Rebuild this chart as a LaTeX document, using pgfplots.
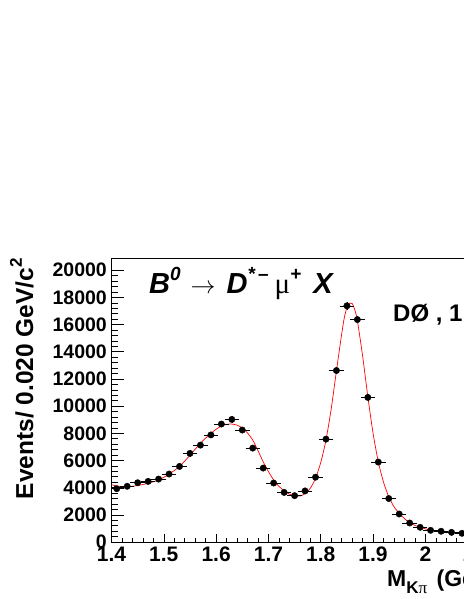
\documentclass[border=0pt]{standalone}
\usepackage{fontspec}
\setmainfont{Liberation Sans}
\newfontfamily\symfont{Liberation Serif}
\usepackage{pgfplots}
\usepackage{pgfplotstable}
\pgfplotsset{compat=1.18}

\newcommand{\upidx}[2][17]{\raisebox{0.45em}{\fontsize{#1}{#1}\selectfont #2}}

% data points: bin centre, events, half bin width, stat error
\pgfplotstableread{
x    y     ex   ey
1.41 3920  0.01 63
1.43 4100  0.01 64
1.45 4360  0.01 66
1.47 4460  0.01 67
1.49 4630  0.01 68
1.51 5000  0.01 71
1.53 5560  0.01 75
1.55 6520  0.01 81
1.57 7130  0.01 84
1.59 7880  0.01 89
1.61 8680  0.01 93
1.63 9020  0.01 95
1.65 8240  0.01 91
1.67 6910  0.01 83
1.69 5440  0.01 74
1.71 4340  0.01 66
1.73 3650  0.01 60
1.75 3410  0.01 58
1.77 3760  0.01 61
1.79 4770  0.01 69
1.81 7570  0.01 87
1.83 12620 0.01 112
1.85 17380 0.01 132
1.87 16370 0.01 128
1.89 10640 0.01 103
1.91 5880  0.01 77
1.93 3200  0.01 57
1.95 2060  0.01 45
1.97 1400  0.01 37
1.99 1080  0.01 33
2.01 860   0.01 29
2.03 790   0.01 28
2.05 710   0.01 27
2.07 640   0.01 25
2.09 600   0.01 24
2.11 560   0.01 24
2.13 530   0.01 23
2.15 500   0.01 22
2.17 480   0.01 22
2.19 460   0.01 21
}\datatable

% fit curve
\pgfplotstableread{
x     y
1.40  4220
1.41  4120
1.42  4080
1.43  4070
1.44  4100
1.45  4160
1.46  4230
1.47  4320
1.48  4430
1.49  4570
1.50  4760
1.51  5000
1.52  5260
1.53  5560
1.54  5950
1.55  6400
1.56  6830
1.57  7260
1.58  7650
1.59  7990
1.60  8300
1.61  8530
1.62  8660
1.63  8680
1.64  8600
1.65  8400
1.66  8020
1.67  7500
1.68  6720
1.69  5900
1.70  5180
1.71  4560
1.72  4100
1.73  3770
1.74  3520
1.75  3400
1.76  3380
1.77  3550
1.78  3950
1.79  4680
1.80  5850
1.81  7500
1.82  9800
1.83  12600
1.84  15300
1.845 16500
1.85  17250
1.855 17580
1.86  17550
1.865 17100
1.87  16300
1.88  13700
1.89  10700
1.90  8000
1.91  5900
1.92  4400
1.93  3330
1.94  2600
1.95  2110
1.96  1720
1.97  1420
1.98  1220
1.99  1080
2.00  970
2.01  880
2.02  820
2.03  770
2.05  700
2.07  640
2.10  580
2.15  500
2.20  440
}\fitcurve

\begin{document}
\begin{tikzpicture}[x=1pt,y=1pt]
\useasboundingbox (0,0) rectangle (463,599);
\begin{axis}[
    at={(111.5pt,57pt)}, anchor=south west,
    scale only axis, width=418.5pt, height=284pt,
    xmin=1.4, xmax=2.2, ymin=0, ymax=20900,
    xtick={1.4,1.5,1.6,1.7,1.8,1.9,2.0,2.1,2.2},
    ytick={0,2000,...,20000},
    minor x tick num=4, minor y tick num=4,
    tick align=inside, tick pos=left,
    axis line style={line width=0.8pt},
    tick style={black, line width=0.6pt},
    xtick style={/pgfplots/major tick length=8pt, /pgfplots/minor tick length=4pt},
    ytick style={/pgfplots/major tick length=12pt, /pgfplots/minor tick length=6pt},
    scaled y ticks=false,
    /pgf/number format/assume math mode=true,
    yticklabel style={/pgf/number format/set thousands separator={}, anchor=east, inner sep=0pt, xshift=-4.5pt,
        font=\bfseries\fontsize{19.5}{20}\selectfont},
    xticklabel style={anchor=north, inner sep=0pt, yshift=-5pt,
        font=\bfseries\fontsize{21}{22}\selectfont},
]
\addplot[red, line width=0.7pt, smooth, tension=0.4] table[x=x, y=y] {\fitcurve};
\addplot[black, only marks, mark=*, mark size=3.2pt,
    error bars/.cd, x dir=both, x explicit, y dir=both, y explicit,
    error bar style={line width=0.6pt, black},
    error mark options={black, mark size=2pt, line width=0.6pt}]
    table[x=x, y=y, x error=ex, y error=ey] {\datatable};
\end{axis}
% axis titles (ROOT style: aligned to the axis ends)
\node[rotate=90, anchor=base east, inner sep=0pt, font=\bfseries\fontsize{24.5}{25}\selectfont]
    at (33,341) {Events/ 0.020 GeV/c\upidx[17]{2}};
\node[anchor=base west, inner sep=0pt, font=\bfseries\fontsize{23}{23}\selectfont]
    at (387,12.3) {M\raisebox{-0.3em}{\fontsize{17}{17}\selectfont K{\symfont\mdseries π}}\hspace{3pt} (GeV/c\upidx[16]{2})};
% decay label and experiment tag
\node[anchor=base west, inner sep=0pt, font=\bfseries\itshape\fontsize{29}{29}\selectfont]
    at (149,305) {B\upidx[19]{0}\hspace{10pt}{\mdseries\upshape$\rightarrow$}\hspace{11pt}D\upidx[19]{*\,--}\hspace{6pt}{\symfont\mdseries\upshape μ}\upidx[19]{+}\hspace{12pt}X};
\node[anchor=base west, inner sep=0pt, font=\bfseries\fontsize{24}{24}\selectfont]
    at (393,277) {DØ , 1 fb\upidx[16]{--1}};
\end{tikzpicture}
\end{document}
